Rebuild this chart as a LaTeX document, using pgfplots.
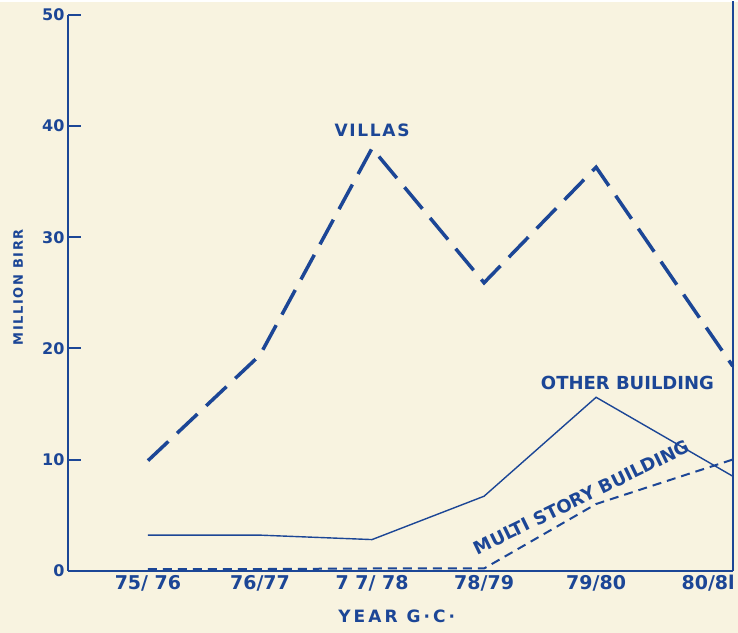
\documentclass[border=0pt]{standalone}
\usepackage{pgfplots}
\pgfplotsset{compat=1.18}
\usepackage{fontspec}
\setmainfont{DejaVu Sans}
\definecolor{ink}{RGB}{28,70,150}
\definecolor{paper}{RGB}{248,243,224}
\newcommand{\fs}[1]{\fontsize{#1}{#1}\selectfont\bfseries}
\begin{document}
\begin{tikzpicture}[x=1pt,y=1pt]
\fill[paper] (0,0) rectangle (738,631);
\begin{axis}[
  at={(68pt,62pt)}, anchor=south west,
  scale only axis, width=665pt, height=556pt,
  xmin=-0.714, xmax=5.22, ymin=0, ymax=50,
  clip=false,
  axis x line*=bottom, axis y line*=left,
  axis line style={ink, line width=2pt},
  xtick={0,1,2,3,4,5},
  xticklabels={75/ 76, 76/77, 7 7/ 78, 78/79, 79/80, 80/8l},
  ytick={0,10,20,30,40,50},
  major tick length=13pt,
  tick align=inside,
  ytick style={ink, line width=2pt},
  xtick style={draw=none},
  /pgf/number format/assume math mode=true,
  yticklabel style={font=\fs{16}, text=ink, xshift=0pt},
  xticklabel style={font=\fs{19}, text=ink, yshift=-1pt},
  xlabel={\addfontfeature{LetterSpace=18}YEAR G·C·},
  xlabel style={at={(axis cs:2.22,0)}, anchor=center, yshift=-46pt, font=\fs{17}, text=ink},
  ylabel={\addfontfeature{LetterSpace=12}MILLION BIRR},
  ylabel style={at={(axis description cs:-0.075,0.51)}, anchor=center, font=\fs{13}, text=ink},
]
\addplot[ink, line width=3.5pt, dash pattern=on 28pt off 12pt] coordinates {(0,9.9)(1,19.4)(2,38.0)(3,25.9)(4,36.3)(5.22,18.4)};
\addplot[ink, line width=1.4pt] coordinates {(0,3.2)(1,3.2)(2,2.8)(3,6.7)(4,15.6)(5.22,8.5)};
\addplot[ink, line width=2pt, dash pattern=on 9pt off 6pt] coordinates {(0,0.15)(1,0.15)(2,0.2)(3,0.2)(4,6.0)(5.22,10.0)};
\node[font=\fs{17}, text=ink] at (axis cs:2.0,39.6) {\addfontfeature{LetterSpace=10}VILLAS};
\node[font=\fs{18}, text=ink] at (axis cs:4.28,16.9) {OTHER BUILDING};
\node[font=\fs{18}, text=ink, rotate=26] at (axis cs:3.87,6.6) {MULTI STORY BUILDING};
\draw[ink, line width=2pt] (rel axis cs:1,0) -- (rel axis cs:1,1.025);
\end{axis}
\end{tikzpicture}
\end{document}
